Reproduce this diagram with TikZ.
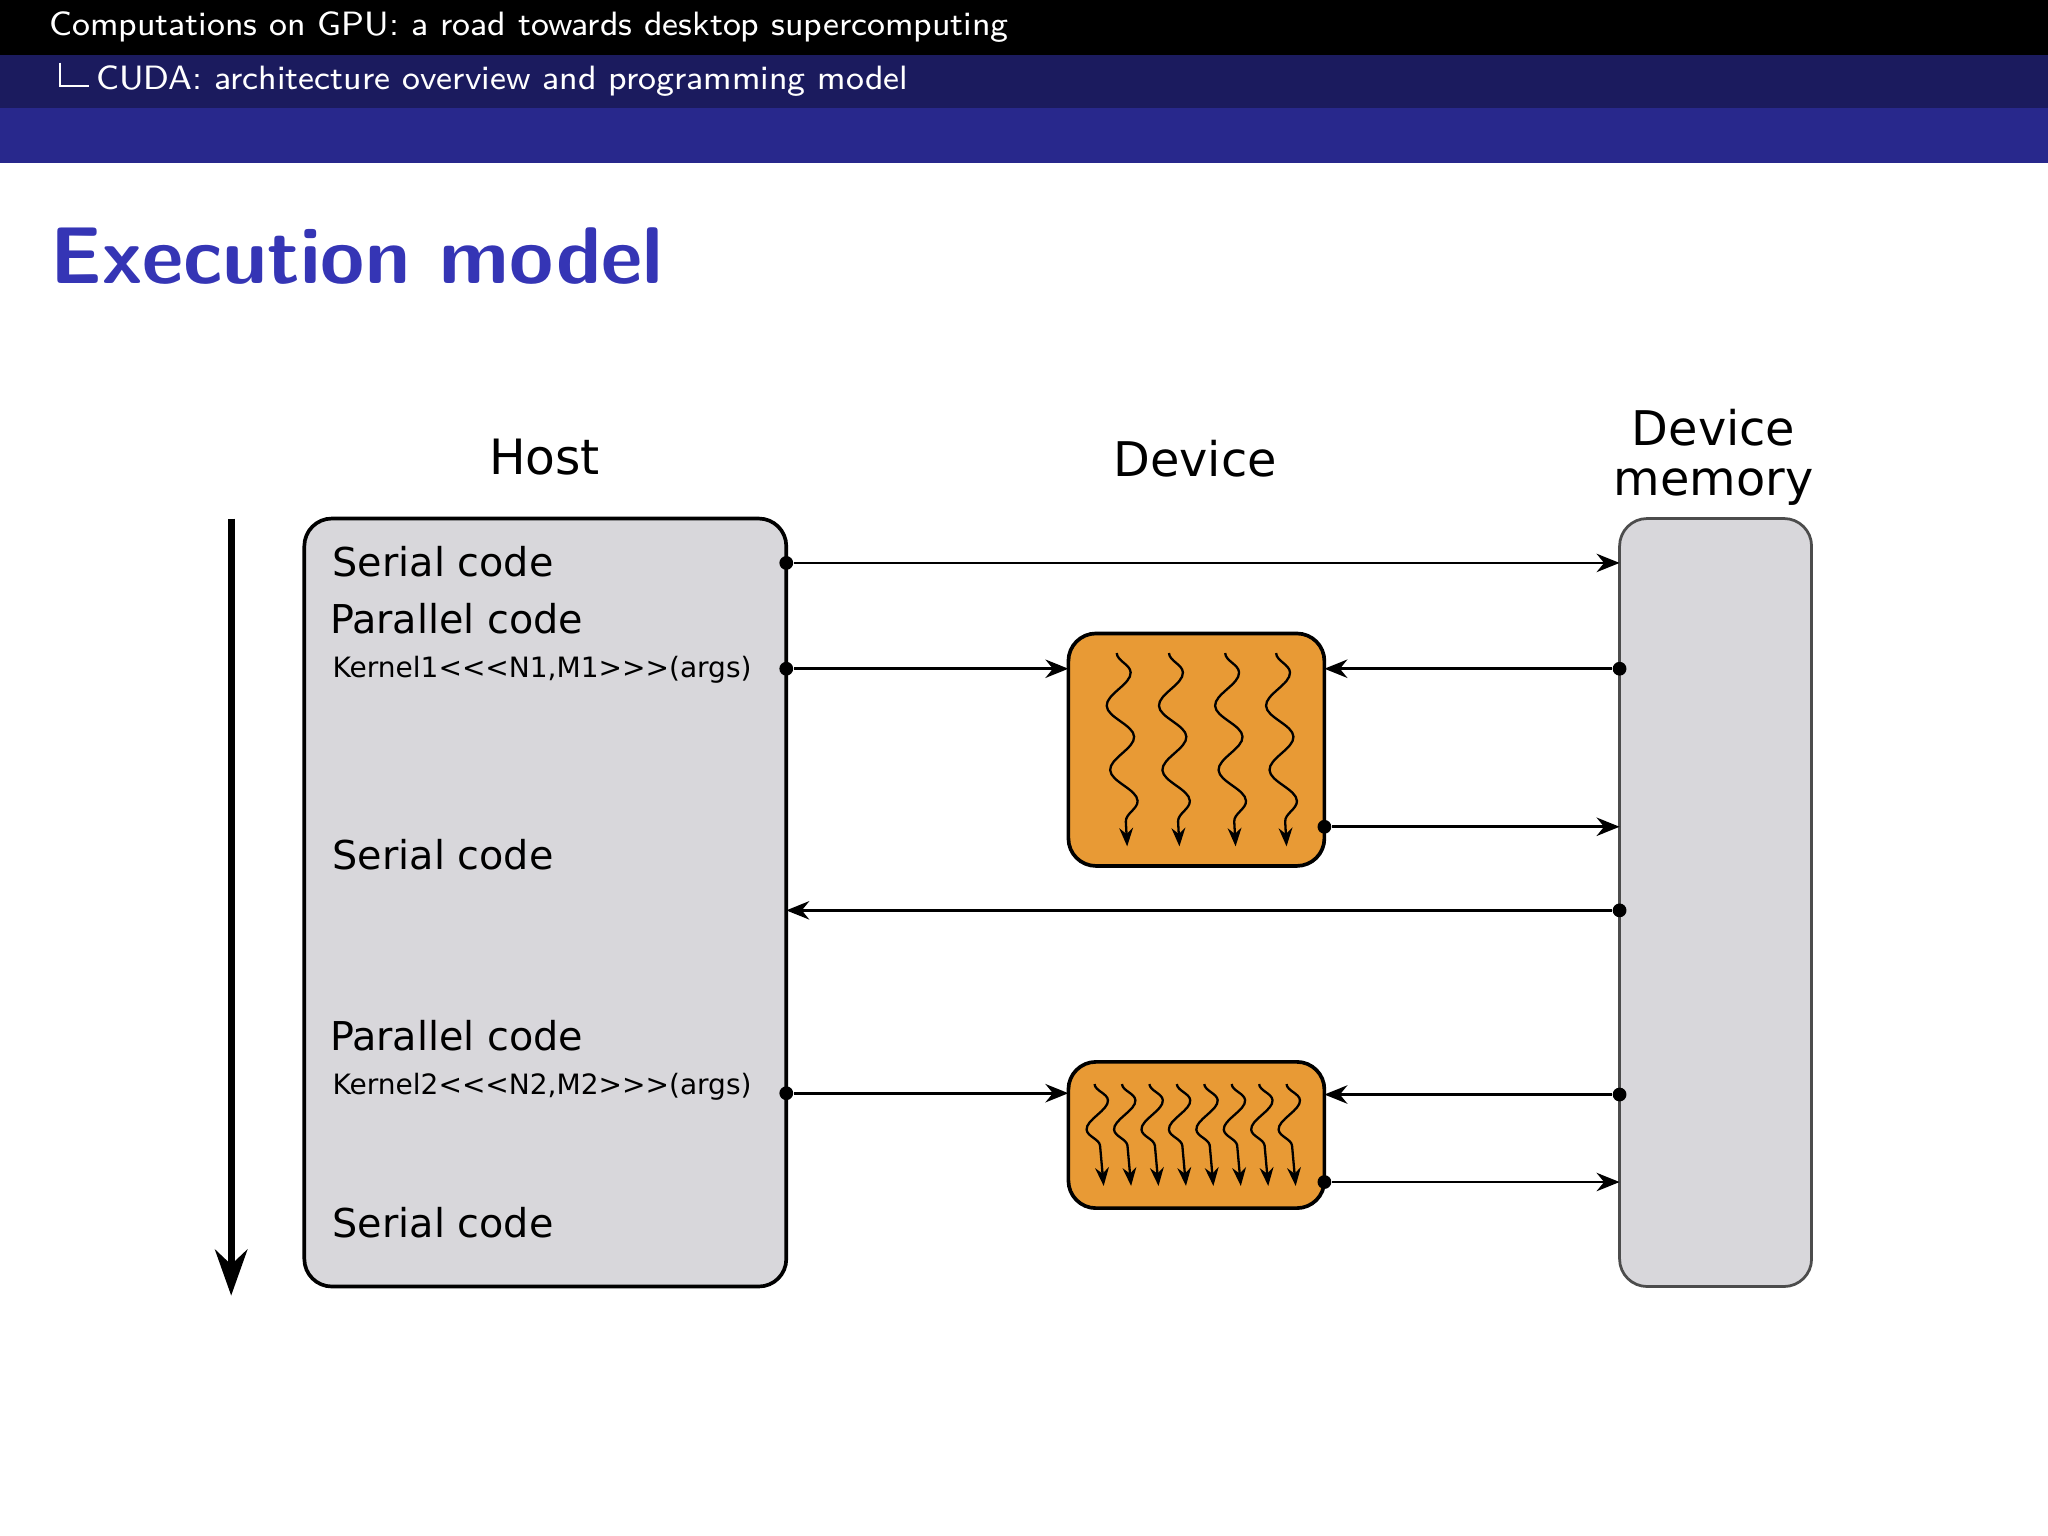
\documentclass[tikz,border=0pt]{standalone}
\usepackage{fontspec}
\setmainfont{DejaVu Sans}
\usetikzlibrary{arrows.meta,decorations.pathmorphing}
\definecolor{boxgray}{HTML}{D8D7DB}
\definecolor{kor}{HTML}{E89A35}
\definecolor{navyA}{HTML}{1B1B5E}
\definecolor{navyB}{HTML}{28288C}
\definecolor{titleblue}{HTML}{3535B5}
\newfontfamily\lms{Latin Modern Sans}
\begin{document}
\begin{tikzpicture}[x=0.01cm,y=-0.01cm,
  box/.style={draw=black,line width=0.8pt,rounded corners=6pt},
  lab/.style={font=\fontsize{8.65pt}{10pt}\selectfont,anchor=west,inner sep=0},
  klab/.style={font=\fontsize{6.1pt}{7pt}\selectfont,anchor=west,inner sep=0},
  con/.style={line width=0.6pt,-{Stealth[length=5pt,width=4pt]}},
  dot/.style={circle,fill=black,inner sep=0,minimum size=3pt},
  wav/.style={line width=0.5pt,decorate,decoration={snake,amplitude=2.8pt,segment length=14pt,post length=4pt},-{Stealth[length=4pt,width=3pt]}}]
\useasboundingbox (0,0) rectangle (1568,1176);
\fill[black] (0,0) rectangle (1568,42);
\fill[navyA] (0,42) rectangle (1568,83);
\fill[navyB] (0,83) rectangle (1568,125);
\node[anchor=west,white,font=\lms\fontsize{7.35pt}{9pt}\selectfont,inner sep=0] (h1) at (37,21) {Computations on GPU: a road towards desktop supercomputing};
\draw[white,line width=0.5pt] (46,48) |- (68,66);
\node[anchor=west,white,font=\lms\fontsize{7.35pt}{9pt}\selectfont,inner sep=0] (h2) at (73,62) {CUDA: architecture overview and programming model};
\node[anchor=west,titleblue,font=\lms\bfseries\fontsize{17.5pt}{20pt}\selectfont,inner sep=0] (title) at (38,196) {Execution model};

\node[font=\fontsize{10.6pt}{12pt}\selectfont] (thost) at (417,350) {Host};
\node[font=\fontsize{10.4pt}{12pt}\selectfont] (tdev) at (915,351) {Device};
\node[font=\fontsize{10.4pt}{12pt}\selectfont,align=center] (tmem) at (1312,350) {Device\\[-1pt]memory};

\draw[box,fill=boxgray] (233,397) rectangle (602,985);
\draw[box,draw=black!70,line width=0.6pt,fill=boxgray] (1240,397) rectangle (1387,985);
\draw[box,fill=kor] (818,485) rectangle (1014,663);
\draw[box,fill=kor] (818,813) rectangle (1014,925);

\node[lab] (s1) at (254,430) {Serial code};
\node[lab] (p1) at (252,474) {Parallel code};
\node[klab] (k1) at (254,513) {Kernel1{<}{<}{<}N1,M1{>}{>}{>}(args)};
\node[lab] (s2) at (254,654) {Serial code};
\node[lab] (p2) at (252,793) {Parallel code};
\node[klab] (k2) at (254,832) {Kernel2{<}{<}{<}N2,M2{>}{>}{>}(args)};
\node[lab] (s3) at (254,936) {Serial code};

\coordinate (ta) at (177,397); \coordinate (tb) at (177,992);
\draw[line width=1.6pt,-{Stealth[length=10pt,width=7pt]}] (ta) -- (tb);

\node[dot] (a1) at (602,431) {}; \coordinate (b1) at (1240,431);
\draw[con] (a1) -- (b1);
\node[dot] (a2) at (602,512) {}; \coordinate (b2) at (818,512);
\draw[con] (a2) -- (b2);
\node[dot] (a3) at (1240,512) {}; \coordinate (b3) at (1014,512);
\draw[con] (a3) -- (b3);
\node[dot] (a4) at (1014,633) {}; \coordinate (b4) at (1240,633);
\draw[con] (a4) -- (b4);
\node[dot] (a5) at (1240,697) {}; \coordinate (b5) at (602,697);
\draw[con] (a5) -- (b5);
\node[dot] (a6) at (602,837) {}; \coordinate (b6) at (818,837);
\draw[con] (a6) -- (b6);
\node[dot] (a7) at (1240,838) {}; \coordinate (b7) at (1014,838);
\draw[con] (a7) -- (b7);
\node[dot] (a8) at (1014,905) {}; \coordinate (b8) at (1240,905);
\draw[con] (a8) -- (b8);

\foreach \x in {855,895,938,977} \draw[wav] (\x,500) -- (\x+8,648);
\foreach \i in {0,...,7} \draw[wav,decoration={snake,amplitude=2.6pt,segment length=12pt,post length=3pt}] (838+\i*21,830) -- (845+\i*21,908);
\end{tikzpicture}
\end{document}
